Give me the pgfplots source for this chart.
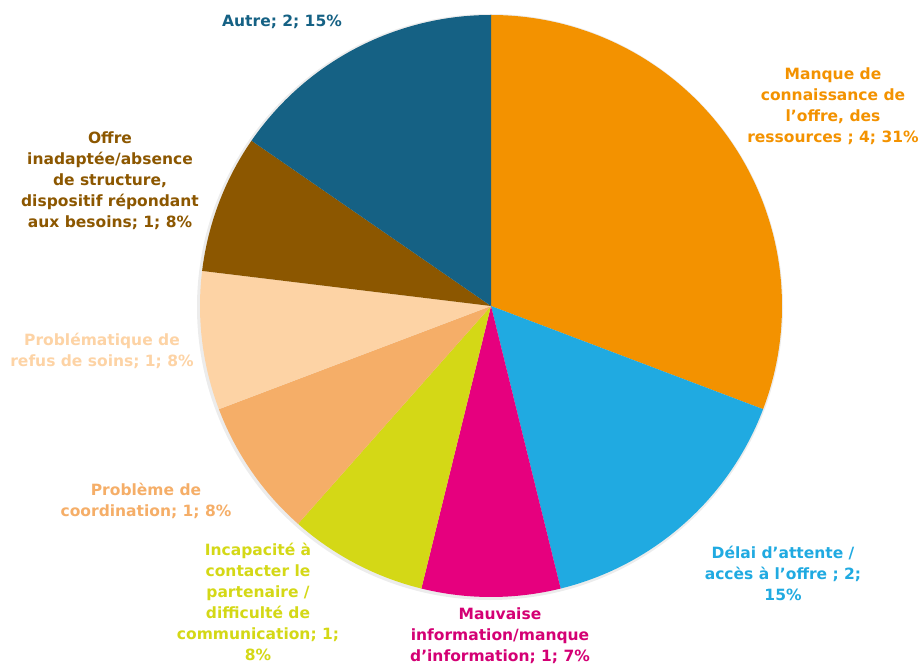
\documentclass[border=0pt]{standalone}
\usepackage{fontspec}
\setmainfont{DejaVu Sans}
\usepackage{pgfplots}
\pgfplotsset{compat=1.18}
\usepackage{pgfplotstable}

% slice colours, clockwise from the top
\definecolor{slice0}{HTML}{F39200}
\definecolor{slice1}{HTML}{20AAE1}
\definecolor{slice2}{HTML}{E6007E}
\definecolor{slice3}{HTML}{D4D816}
\definecolor{slice4}{HTML}{F5AE68}
\definecolor{slice5}{HTML}{FDD3A5}
\definecolor{slice6}{HTML}{8C5700}
\definecolor{slice7}{HTML}{156184}

\tikzset{lab/.style={align=center,font=\bfseries\fontsize{15.5}{21}\selectfont}}

\pgfplotstableread{
value
4
2
1
1
1
1
1
2
}\piedata

\begin{document}
\begin{tikzpicture}
\begin{axis}[x=1pt,y=1pt,xmin=0,xmax=920,ymin=0,ymax=664,hide axis,clip=false]
% total of the series
\def\total{0}
\pgfplotsforeachungrouped \i in {0,...,7}{%
  \pgfplotstablegetelem{\i}{value}\of\piedata
  \pgfmathsetmacro\total{\total+\pgfplotsretval}}
% soft shadow
\fill[gray!15] (axis cs:490,357) circle[radius=293pt];
% slices
\def\cumul{0}
\pgfplotsforeachungrouped \i in {0,...,7}{%
  \pgfplotstablegetelem{\i}{value}\of\piedata
  \let\v\pgfplotsretval
  \pgfmathsetmacro\a{90-\cumul*360/\total}
  \pgfmathsetmacro\b{90-(\cumul+\v)*360/\total}
  \edef\temp{\noexpand\fill[slice\i] (axis cs:491,358) -- ++(\a:291pt)
    arc[start angle=\a, end angle=\b, radius=291pt] -- cycle;}
  \temp
  \pgfmathsetmacro\cumul{\cumul+\v}
}
% labels
\node[lab,text=slice0] at (axis cs:833,558) {Manque de\\connaissance de\\l'offre, des\\ressources ; 4; 31\%};
\node[lab,text=slice1] at (axis cs:783,91) {Délai d'attente /\\accès à l'offre ; 2;\\15\%};
\node[lab,text=slice2!92!black] at (axis cs:500,28) {Mauvaise\\information/manque\\d'information; 1; 7\%};
\node[lab,text=slice3] at (axis cs:258,62) {Incapacité à\\contacter le\\partenaire /\\difficulté de\\communication; 1;\\8\%};
\node[lab,text=slice4] at (axis cs:146,163) {Problème de\\coordination; 1; 8\%};
\node[lab,text=slice5] at (axis cs:102,313) {Problématique de\\refus de soins; 1; 8\%};
\node[lab,text=slice6] at (axis cs:110,483) {Offre\\inadaptée/absence\\de structure,\\dispositif répondant\\aux besoins; 1; 8\%};
\node[lab,text=slice7] at (axis cs:282,642) {Autre; 2; 15\%};
\end{axis}
\pgfresetboundingbox
\path (current axis.south west) rectangle (current axis.north east);
\end{tikzpicture}
\end{document}
